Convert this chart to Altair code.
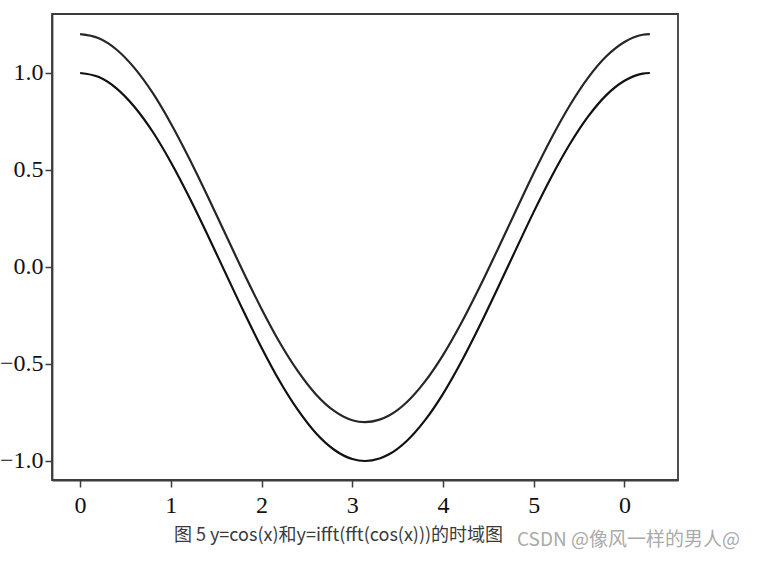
import altair as alt
import pandas as pd

X_VALUES = [0.0, 0.2, 0.4, 0.6, 0.8, 1.0, 1.2, 1.4, 1.6, 1.8, 2.0, 2.2, 2.4, 2.6, 2.8, 3.0,
            3.14, 3.3, 3.4, 3.6, 3.8, 4.0, 4.2, 4.4, 4.6, 4.8, 5.0, 5.2, 5.4, 5.6, 5.8, 6.0, 6.2, 6.28]
Y_COS = [1.000, 0.980, 0.921, 0.825, 0.697, 0.540, 0.362, 0.170, -0.029, -0.227, -0.416,
         -0.589, -0.737, -0.857, -0.942, -0.990, -1.000, -0.987, -0.967, -0.897, -0.791,
         -0.654, -0.490, -0.307, -0.112, 0.087, 0.284, 0.469, 0.635, 0.776, 0.886, 0.960,
         0.997, 1.000]
Y_IFFT = [1.200, 1.180, 1.121, 1.025, 0.897, 0.740, 0.562, 0.370, 0.171, -0.027, -0.216,
          -0.389, -0.537, -0.657, -0.742, -0.790, -0.800, -0.787, -0.767, -0.697, -0.591,
          -0.454, -0.290, -0.107, 0.088, 0.287, 0.484, 0.669, 0.835, 0.976, 1.086, 1.160,
          1.197, 1.200]
SERIES = ["cos(x)", "ifft(fft(cos(x)))"]
X_TICKS = [0, 1, 2, 3, 4, 5, 6]
X_TICK_LABELS = ["0", "1", "2", "3", "4", "5", "0"]
Y_TICKS = [-1.0, -0.5, 0.0, 0.5, 1.0]
CAPTION = "图 5 y=cos(x)和y=ifft(fft(cos(x)))的时域图"
WATERMARK = "CSDN @像风一样的男人@"

rows = []
for x, a, b in zip(X_VALUES, Y_COS, Y_IFFT):
    rows.append({"x": x, "y": a, "series": SERIES[0]})
    rows.append({"x": x, "y": b, "series": SERIES[1]})
df = pd.DataFrame(rows)

label_map = "{" + ",".join(f"'{t}':'{l}'" for t, l in zip(X_TICKS, X_TICK_LABELS)) + "}"

lines = alt.Chart(df).mark_line(strokeWidth=2.2, interpolate="monotone").encode(
    x=alt.X("x:Q",
            scale=alt.Scale(domain=[-0.31, 6.59], nice=False, zero=False),
            axis=alt.Axis(values=X_TICKS, labelExpr=label_map + "[datum.value]",
                          title=CAPTION, titleFont="Noto Sans CJK SC", titleFontSize=18,
                          titleFontWeight="normal", titleColor="#3a3a3a",
                          titleX=286, titleY=55, titleBaseline="middle", titleAnchor="middle",
                          titleAlign="center")),
    y=alt.Y("y:Q",
            scale=alt.Scale(domain=[-1.098, 1.304], nice=False, zero=False),
            axis=alt.Axis(values=Y_TICKS, format=".1f", title=None)),
    color=alt.Color("series:N", scale=alt.Scale(domain=SERIES, range=["#111111", "#262626"]),
                    legend=None),
    detail="series:N",
)

wm_df = pd.DataFrame({"t": [WATERMARK]})
watermark = alt.Chart(wm_df).mark_text(
    font="Noto Sans CJK SC", fontSize=19, color="#aaaaaa", align="left", baseline="middle"
).encode(text="t:N", x=alt.value(465), y=alt.value(526))

chart = alt.layer(lines, watermark).properties(
    width=626, height=466,
    padding={"left": 52, "top": 14, "right": 82, "bottom": 81},
    autosize="none",
).configure_view(
    stroke="#3c3c3c", strokeWidth=1.8
).configure_axis(
    grid=False,
    domainColor="#3c3c3c", domainWidth=1.8,
    tickColor="#3c3c3c", tickWidth=1.5, tickSize=7,
    labelFont="Liberation Serif", labelFontSize=24, labelColor="#111111",
).configure_axisX(labelPadding=6).configure_axisY(labelPadding=2)

chart.save("out.html", embed_options={"renderer": "svg", "actions": False})
